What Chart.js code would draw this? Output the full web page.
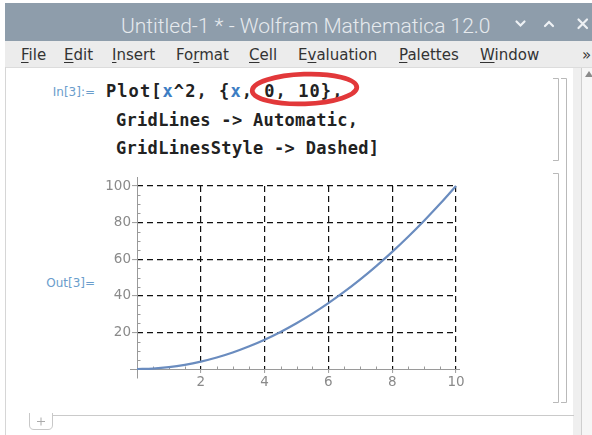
<!DOCTYPE html>
<html>
<head>
<meta charset="utf-8">
<script src="https://cdn.jsdelivr.net/npm/chart.js@4.4.1/dist/chart.umd.min.js"></script>
<style>
  html, body { margin: 0; padding: 0; }
  body { width: 592px; height: 435px; overflow: hidden; background: #fff; position: relative; font-family: "DejaVu Sans", sans-serif; }
  .abs { position: absolute; white-space: nowrap; }
  #titlebar { left: 5px; top: 3px; width: 587px; height: 38px; background: #8e9dab; }
  #title { left: 121px; top: 13px; font: 300 21px Roboto; line-height: 26px; color: #e6eaee; }
  #menubar { left: 5px; top: 41px; width: 587px; height: 26px; background: #ececec; border-bottom: 1px solid #dcdcdc; }
  .menu { top: 46px; font-size: 15px; line-height: 18px; color: #333; }
  .menu u { text-decoration-thickness: 1px; text-underline-offset: 2px; }
  .code { left: 116px; font: bold 17px "DejaVu Sans Mono"; line-height: 20px; color: #222; letter-spacing: 0.3px; }
  .code .v { color: #3d7ec4; }
  .cellLabel { right: 497px; font-size: 12px; line-height: 14px; color: #6a9dcc; }
  #plot { position: absolute; left: 70px; top: 170px; }
  #deco { position: absolute; left: 0; top: 0; pointer-events: none; }
</style>
</head>
<body>
<div class="abs" id="titlebar"></div>
<div class="abs" id="title">Untitled-1 * - Wolfram Mathematica 12.0</div>
<div class="abs" id="menubar"></div>
<div class="abs menu" style="left:21px"><u>F</u>ile</div>
<div class="abs menu" style="left:64px"><u>E</u>dit</div>
<div class="abs menu" style="left:112px"><u>I</u>nsert</div>
<div class="abs menu" style="left:176px">Fo<u>r</u>mat</div>
<div class="abs menu" style="left:249px"><u>C</u>ell</div>
<div class="abs menu" style="left:298px">E<u>v</u>aluation</div>
<div class="abs menu" style="left:399px"><u>P</u>alettes</div>
<div class="abs menu" style="left:480px"><u>W</u>indow</div>
<div class="abs menu" style="left:582px">»</div>

<div class="abs cellLabel" style="top:85px">In[3]:=</div>
<div class="abs code" style="left:106px; top:81px; letter-spacing:1.07px">Plot[<span class="v">x</span>^2, {<span class="v">x</span>, 0, 10},</div>
<div class="abs code" style="top:110px">GridLines -&gt; Automatic,</div>
<div class="abs code" style="top:138px">GridLinesStyle -&gt; Dashed]</div>
<div class="abs cellLabel" style="top:276px">Out[3]=</div>

<canvas id="plot" width="410" height="230"></canvas>

<svg id="deco" width="592" height="435" xmlns="http://www.w3.org/2000/svg">
  <!-- window controls -->
  <g stroke="#eef1f4" stroke-width="2.2" fill="none" stroke-linecap="round">
    <path d="M516.5 21.5 L520.5 25.5 L524.5 21.5"/>
    <path d="M545 26 L549 22 L553 26"/>
    <path d="M578.5 19.5 L587 28 M587 19.5 L578.5 28"/>
  </g>
  <!-- left frame -->
  <line x1="5.5" y1="67" x2="5.5" y2="435" stroke="#d6d6d6"/>
  <!-- scrollbar -->
  <rect x="573" y="68" width="8" height="367" fill="#efefef"/>
  <line x1="581.5" y1="68" x2="581.5" y2="435" stroke="#cfcfcf"/>
  <rect x="582" y="68" width="10" height="367" fill="#f6f6f6"/>
  <path d="M585 77 L589 71 L593 77 Z" fill="#8a8a8a"/>
  <!-- cell brackets -->
  <g stroke="#b9b9b9" stroke-width="1" fill="none">
    <path d="M553 78.5 H558.5 V160.5 H553"/>
    <path d="M553 173.5 H558.5 V402.5 H553"/>
    <path d="M561 78.5 H566.5 V402.5 H561"/>
  </g>
  <!-- new cell line -->
  <line x1="52" y1="415.5" x2="574" y2="415.5" stroke="#cacaca"/>
  <path d="M29.5 413 V425 Q29.5 429.5 34 429.5 H48 Q52.5 429.5 52.5 425 V413" stroke="#c8c8c8" fill="none"/>
  <path d="M37 421.5 H45 M41 417.5 V425.5" stroke="#aaaaaa"/>
  <!-- red annotation -->
  <ellipse cx="304.5" cy="89" rx="52.3" ry="14.8" transform="rotate(-2 304.5 89)" fill="none" stroke="#e2383a" stroke-width="4.8"/>
</svg>

<script>
// curve: x from 0 to 10, y = x^2
const xValues = [0, 0.5, 1, 1.5, 2, 2.5, 3, 3.5, 4, 4.5, 5, 5.5, 6, 6.5, 7, 7.5, 8, 8.5, 9, 9.5, 10];
const yValues = [0, 0.25, 1, 2.25, 4, 6.25, 9, 12.25, 16, 20.25, 25, 30.25, 36, 42.25, 49, 56.25, 64, 72.25, 81, 90.25, 100];

const xTickValues = [2, 4, 6, 8, 10];
const yTickValues = [20, 40, 60, 80, 100];
const xMinorTicks = [0.5, 1, 1.5, 2.5, 3, 3.5, 4.5, 5, 5.5, 6.5, 7, 7.5, 8.5, 9, 9.5];
const yMinorTicks = [5, 10, 15, 25, 30, 35, 45, 50, 55, 65, 70, 75, 85, 90, 95];

const axisColor = "#9a9a9a";
const labelColor = "#8a8a8a";
const gridColor = "#111";
const curveColor = "#6a8cbf";

Chart.defaults.font.family = "DejaVu Sans";

// Mathematica style axes crossing at the origin, with small minor ticks
const mmaAxes = {
  id: "mmaAxes",
  beforeDatasetsDraw(chart) {
    const { ctx, chartArea } = chart;
    const xs = chart.scales.x, ys = chart.scales.y;
    const x0 = Math.round(xs.getPixelForValue(0)) + 0.5;
    const y0 = Math.round(ys.getPixelForValue(0)) + 0.5;
    ctx.save();
    ctx.strokeStyle = axisColor;
    ctx.lineWidth = 1;
    ctx.beginPath();
    ctx.moveTo(chartArea.left - 7, y0);
    ctx.lineTo(chartArea.right + 4, y0);
    ctx.moveTo(x0, y0 + 9);
    ctx.lineTo(x0, chartArea.top - 9);
    xMinorTicks.forEach(v => {
      const px = Math.round(xs.getPixelForValue(v)) + 0.5;
      ctx.moveTo(px, y0);
      ctx.lineTo(px, y0 - 3);
    });
    yMinorTicks.forEach(v => {
      const py = Math.round(ys.getPixelForValue(v)) + 0.5;
      ctx.moveTo(x0, py);
      ctx.lineTo(x0 + 3, py);
    });
    ctx.stroke();
    ctx.restore();
  }
};

new Chart(document.getElementById("plot"), {
  type: "line",
  data: {
    datasets: [{
      data: xValues.map((x, i) => ({ x: x, y: yValues[i] })),
      borderColor: curveColor,
      borderWidth: 2.2,
      pointRadius: 0,
      fill: false,
      cubicInterpolationMode: "monotone",
      clip: false
    }]
  },
  options: {
    responsive: false,
    animation: false,
    events: [],
    layout: { padding: { top: 16, right: 24, bottom: 0, left: 0 } },
    plugins: { legend: { display: false }, tooltip: { enabled: false } },
    scales: {
      x: {
        type: "linear",
        min: 0,
        max: 10,
        afterBuildTicks: s => { s.ticks = xTickValues.map(v => ({ value: v })); },
        afterFit: s => { s.height = 31; },
        grid: { color: gridColor, lineWidth: 1.2, tickLength: 4, tickColor: axisColor, tickWidth: 1 },
        border: { display: false, dash: [6, 4] },
        ticks: { color: labelColor, font: { size: 13.5 }, padding: 1, maxRotation: 0, autoSkip: false }
      },
      y: {
        type: "linear",
        min: 0,
        max: 100,
        afterBuildTicks: s => { s.ticks = yTickValues.map(v => ({ value: v })); },
        afterFit: s => { s.width = 67; },
        grid: { color: gridColor, lineWidth: 1.2, tickLength: 5, tickColor: axisColor, tickWidth: 1 },
        border: { display: false, dash: [6, 4] },
        ticks: { color: labelColor, font: { size: 13.5 }, padding: 1, autoSkip: false }
      }
    }
  },
  plugins: [mmaAxes]
});
</script>
</body>
</html>
